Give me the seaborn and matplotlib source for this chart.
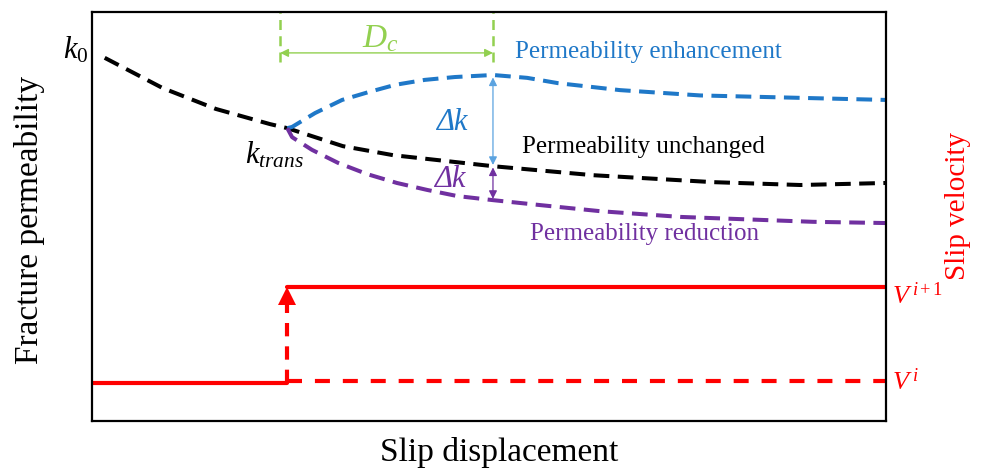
import matplotlib
matplotlib.use("Agg")
import matplotlib.pyplot as plt
import seaborn as sns

sns.set_theme(style="white")
plt.rcParams['font.family'] = ['Liberation Serif', 'DejaVu Serif']
plt.rcParams['mathtext.fontset'] = 'custom'
plt.rcParams['mathtext.rm'] = 'Liberation Serif'
plt.rcParams['mathtext.it'] = 'Liberation Serif:italic'
plt.rcParams['text.color'] = 'black'

# ---- data (axis units 0-100) ----
unchanged_x = [1.6, 8.9, 15.6, 22.4, 24.6, 31.6, 37.9, 50.5, 63.1, 78.2, 89.2, 100]
unchanged_y = [88.8, 81.4, 76.3, 72.6, 71.6, 67.2, 65.0, 62.3, 60.1, 58.4, 57.7, 58.2]

enhance_x = [24.6, 25.2, 28.1, 31.5, 34.8, 38.2, 41.9, 45.7, 50.5, 54.8, 58.7, 66.5, 76.6, 100]
enhance_y = [71.6, 71.9, 75.3, 78.5, 80.4, 82.2, 83.4, 84.1, 84.6, 83.9, 82.6, 80.9, 79.6, 78.5]

reduce_x = [24.6, 25.2, 27.7, 31.0, 34.6, 38.4, 42.2, 46.0, 50.5, 56.4, 64.0, 74.1, 90.8, 100]
reduce_y = [71.6, 69.4, 66.3, 63.1, 60.4, 58.2, 56.5, 55.0, 54.0, 52.8, 51.3, 49.9, 48.7, 48.4]

v_switch = 24.6
v_low = 9.3
v_high = 32.8
dc_start, dc_end = 23.7, 50.5

fig = plt.figure(figsize=(9.83, 4.69), dpi=100)
ax = fig.add_axes([92/983, 1-421/469, (886-92)/983, (421-12)/469])
ax.set_xlim(0, 100)
ax.set_ylim(0, 100)

BLACK = "black"
BLUE = "#1F78C8"
BLUE_LIGHT = "#5BA3E0"
PURPLE = "#7030A0"
GREEN = "#92D050"
RED = "#FF0000"

common = dict(ax=ax, sort=False, estimator=None)
dash_k = (0, (3.9, 2.1))
sns.lineplot(x=unchanged_x, y=unchanged_y, color=BLACK, lw=2.9, linestyle=dash_k, **common)
sns.lineplot(x=enhance_x, y=enhance_y, color=BLUE, lw=2.9, linestyle=dash_k, **common)
sns.lineplot(x=reduce_x, y=reduce_y, color=PURPLE, lw=2.9, linestyle=dash_k, **common)

# slip velocity step
red_dash = (0, (3.6, 3.1))
sns.lineplot(x=[0, v_switch], y=[v_low, v_low], color=RED, lw=3, **common)
sns.lineplot(x=[v_switch, 100], y=[v_high, v_high], color=RED, lw=3, **common)
sns.lineplot(x=[v_switch, 100], y=[v_low + 0.4, v_low + 0.4], color=RED, lw=3, linestyle=red_dash, **common)
sns.lineplot(x=[v_switch, v_switch], y=[v_low, v_high - 4], color=RED, lw=3, linestyle=(0, (3.2, 2.4)), **common)
ax.plot([v_switch], [v_high - 2.2], marker='^', color=RED, markersize=13, markeredgewidth=0)

# Dc markers
for xv in (dc_start, dc_end):
    ax.plot([xv, xv], [87.8, 100], color=GREEN, lw=1.8, linestyle=(0, (4, 2.5)), clip_on=False)
ax.annotate("", xy=(dc_start, 90.0), xytext=(dc_end, 90.0),
            arrowprops=dict(arrowstyle='<|-|>', color=GREEN, lw=1.0, mutation_scale=12, shrinkA=0, shrinkB=0))
ax.text(36.3, 93.4, r"$D_c$", color=GREEN, fontsize=24, ha='center', va='center')

# delta k arrows
ax.annotate("", xy=(dc_end, 84.0), xytext=(dc_end, 62.6),
            arrowprops=dict(arrowstyle='<|-|>', color=BLUE_LIGHT, lw=0.9, mutation_scale=12, shrinkA=0, shrinkB=0))
ax.annotate("", xy=(dc_end, 62.0), xytext=(dc_end, 54.3),
            arrowprops=dict(arrowstyle='<|-|>', color=PURPLE, lw=0.9, mutation_scale=12, shrinkA=0, shrinkB=0))
ax.text(45.3, 72.9, "Δk", color=BLUE, fontsize=22, fontstyle='italic', ha='center', va='center')
ax.text(45.0, 59.0, "Δk", color=PURPLE, fontsize=22, fontstyle='italic', ha='center', va='center')

# labels on curves
ax.text(-0.4, 90.7, r"$k_{\mathit{0}}$", color=BLACK, fontsize=22, ha='right', va='center', clip_on=False)
ax.text(23.0, 65.0, r"$k_{trans}$", color=BLACK, fontsize=22, ha='center', va='center')
ax.text(53.3, 90.2, "Permeability enhancement", color=BLUE, fontsize=18, ha='left', va='center')
ax.text(54.2, 67.0, "Permeability unchanged", color=BLACK, fontsize=18, ha='left', va='center')
ax.text(55.2, 45.7, "Permeability reduction", color=PURPLE, fontsize=18, ha='left', va='center')
ax.text(100.7, 30.6, r"$V^{\,\mathit{i+1}}$", color=RED, fontsize=19, ha='left', va='center', clip_on=False)
ax.text(100.7, 9.6, r"$V^{\,i}$", color=RED, fontsize=19, ha='left', va='center', clip_on=False)

ax.set_xticks([])
ax.set_yticks([])
ax.set_xlabel("")
ax.set_ylabel("")
for s in ax.spines.values():
    s.set_color("black")
    s.set_linewidth(1.6)

fig.text(499/983, 1-452/469, "Slip displacement", fontsize=24, ha='center', va='center', color='black')
fig.text(30/983, 1-220/469, "Fracture permeability", fontsize=24, ha='center', va='center', rotation=90, color='black')
fig.text(958/983, 1-206/469, "Slip velocity", fontsize=21, ha='center', va='center', rotation=90, color=RED)

fig.savefig("out.png", dpi=100)
